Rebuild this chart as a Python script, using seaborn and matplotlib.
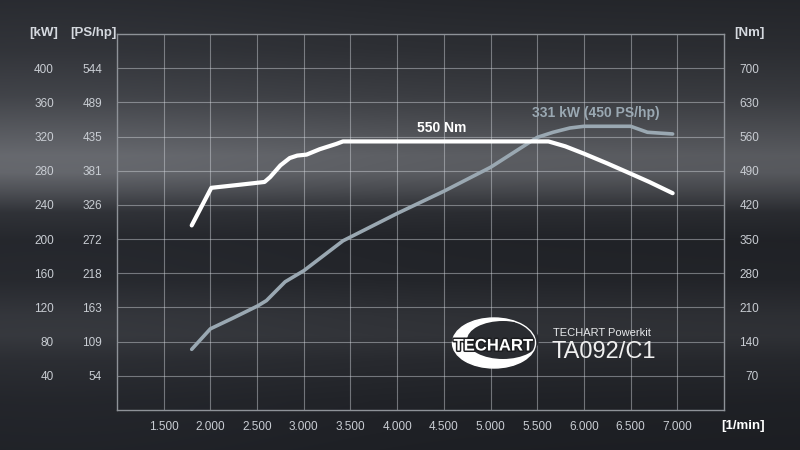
import numpy as np
import pandas as pd
import matplotlib
matplotlib.use("Agg")
import matplotlib.pyplot as plt
import seaborn as sns
from matplotlib.patches import Ellipse
import matplotlib.patheffects as pe

# ---------------- data ----------------
torque_rpm = [1800, 2010, 2300, 2580, 2640, 2750, 2850, 2930, 3030, 3170, 3350, 3420,
              4000, 5000, 5620, 5800, 6000, 6250, 6500, 6700, 6950]
torque_nm = [378, 455, 461, 467, 477, 501, 516, 521, 523, 534, 545, 550,
             550, 550, 550, 540, 525, 505, 484, 467, 444]

power_rpm = [1800, 2000, 2250, 2510, 2600, 2800, 3000, 3420, 4000, 4500, 5000,
             5500, 5670, 5850, 6000, 6500, 6680, 6950]
power_kw = [71, 95, 108, 122, 128, 150, 163, 198, 230, 256, 284,
            319, 325, 330, 332, 332, 325, 323]

rpm_ticks = [1500, 2000, 2500, 3000, 3500, 4000, 4500, 5000, 5500, 6000, 6500, 7000]
rpm_labels = ["1.500", "2.000", "2.500", "3.000", "3.500", "4.000", "4.500",
              "5.000", "5.500", "6.000", "6.500", "7.000"]
kw_ticks = [40, 80, 120, 160, 200, 240, 280, 320, 360, 400]
ps_labels = ["54", "109", "163", "218", "272", "326", "381", "435", "489", "544"]
nm_ticks = [70, 140, 210, 280, 350, 420, 490, 560, 630, 700]

power_label = "331 kW (450 PS/hp)"
torque_label = "550 Nm"

# ---------------- style ----------------
sns.set_theme(style="dark")
plt.rcParams["font.family"] = ["Liberation Sans", "DejaVu Sans"]

W, H = 800, 450
fig = plt.figure(figsize=(8, 4.5), dpi=100)

# background gradient
bg = fig.add_axes([0, 0, 1, 1])
bg.axis("off")
ys = np.array([0, 50, 95, 130, 155, 172, 190, 212, 240, 280, 315, 335, 360, 400, 450])
vs = np.array([38, 46, 60, 80, 94, 92, 72, 44, 34, 36, 48, 50, 40, 33, 30])
yy = np.arange(H)
v = np.interp(yy, ys, vs)
xx = np.arange(W)
hx = 1.0 + 0.10 * np.exp(-((xx - 80) / 260.0) ** 2) - 0.06 * (xx / W)
img = np.zeros((H, W, 3))
img[:, :, 0] = np.outer(v, hx)
img[:, :, 1] = np.outer(v + 2, hx)
img[:, :, 2] = np.outer(v + 7, hx)
img = np.clip(img / 255.0, 0, 1)
bg.imshow(img, aspect="auto", extent=[0, W, H, 0], interpolation="bilinear")
bg.set_xlim(0, W)
bg.set_ylim(H, 0)

# main axes (kW)
L, R, T, B = 117, 724, 34, 410
ax = fig.add_axes([L / W, (H - B) / H, (R - L) / W, (B - T) / H])
ax.set_facecolor("none")
ax.set_xlim(1000, 7500)
ax.set_ylim(0, 440)
ax.grid(True, color="#d4d8de", alpha=0.45, lw=0.8)
for s in ax.spines.values():
    s.set_visible(True)
    s.set_color("#8e9298")
    s.set_linewidth(1.0)

tick_col = "#c9cdd3"
ax.set_xticks(rpm_ticks, rpm_labels)
ax.set_yticks(kw_ticks, [str(k) for k in kw_ticks])
ax.tick_params(axis="x", length=0, pad=8, colors=tick_col, labelsize=8.5)
ax.tick_params(axis="y", length=0, pad=45.4, colors=tick_col, labelsize=8.5)

sec = ax.secondary_yaxis("left")
sec.set_yticks(kw_ticks, ps_labels)
sec.tick_params(length=0, pad=10.8, colors=tick_col, labelsize=8.5)
sec.spines["left"].set_visible(False)

sns.lineplot(x=power_rpm, y=power_kw, ax=ax, color="#9aa8b2", lw=2.6,
             solid_capstyle="round", solid_joinstyle="round", sort=False)
ax.set_xlabel("")
ax.set_ylabel("")

# torque axis (Nm)
ax2 = ax.twinx()
ax2.set_facecolor("none")
ax2.set_ylim(0, 770)
ax2.set_yticks(nm_ticks, [str(n) for n in nm_ticks])
ax2.tick_params(axis="y", length=0, pad=25.2, colors=tick_col, labelsize=8.5)
for lbl in ax2.get_yticklabels():
    lbl.set_ha("right")
ax2.grid(False)
for s in ax2.spines.values():
    s.set_visible(False)
sns.lineplot(x=torque_rpm, y=torque_nm, ax=ax2, color="white", lw=3.0,
             solid_capstyle="round", solid_joinstyle="round", sort=False)
ax2.set_ylabel("")

# annotations
ax.text(5443, 347, power_label, ha="left", va="center", color="#9aa8b2",
        fontsize=10, fontweight="bold")
ax2.text(4480, 577, torque_label, ha="center", va="center", color="white",
         fontsize=10, fontweight="bold")

# headers
hdr_col = "#d5d9df"
def ftext(x, y, s, **kw):
    fig.text(x / W, 1 - y / H, s, **kw)
ftext(44, 33, "[kW]", ha="center", va="center", color=hdr_col, fontsize=9.5, fontweight="bold")
ftext(93, 33, "[PS/hp]", ha="center", va="center", color=hdr_col, fontsize=9.5, fontweight="bold")
ftext(749, 33, "[Nm]", ha="center", va="center", color=hdr_col, fontsize=9.5, fontweight="bold")
ftext(743, 426, "[1/min]", ha="center", va="center", color="white", fontsize=9.5, fontweight="bold")

# product text
ftext(553, 333, "TECHART Powerkit", ha="left", va="center", color="#e6e8ea", fontsize=8)
ftext(551, 352, "TA092/C1", ha="left", va="center", color="#f0f0f0", fontsize=17)

# logo
lg = fig.add_axes([0, 0, 1, 1])
lg.set_xlim(0, W)
lg.set_ylim(H, 0)
lg.axis("off")
lg.add_patch(Ellipse((494, 343), 83, 50, facecolor="white", edgecolor="none"))
lg.add_patch(Ellipse((503, 340), 72, 38, facecolor="#2a2c31", edgecolor="none"))
lg.add_patch(Ellipse((494, 343), 83, 50, facecolor="none", edgecolor="white", lw=1.0))
lg.text(493, 346, "TECHART", ha="center", va="center", color="white",
        fontsize=12, fontweight="bold",
        path_effects=[pe.withStroke(linewidth=2.2, foreground="#1c1d20")])

fig.savefig("out.png", dpi=100)
